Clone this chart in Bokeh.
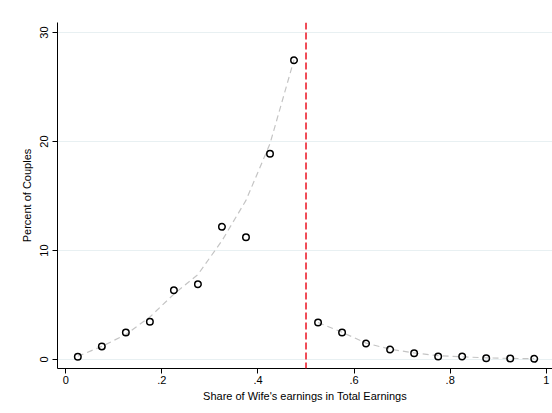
from bokeh.plotting import figure
from bokeh.models import Range1d, FixedTicker, Span
from bokeh.embed import file_html
from bokeh.resources import INLINE

# ---- data ----
bins_left = [0.025, 0.075, 0.125, 0.175, 0.225, 0.275, 0.325, 0.375, 0.425, 0.475]
pct_left = [0.25, 1.19, 2.48, 3.46, 6.36, 6.91, 12.17, 11.22, 18.87, 27.46]
fit_left = [0.3, 1.2, 2.3, 3.9, 6.0, 7.8, 10.9, 14.6, 19.8, 27.5]

bins_right = [0.525, 0.575, 0.625, 0.675, 0.725, 0.775, 0.825, 0.875, 0.925, 0.975]
pct_right = [3.39, 2.48, 1.47, 0.92, 0.58, 0.28, 0.28, 0.12, 0.09, 0.06]
fit_right = [3.4, 2.5, 1.5, 0.95, 0.6, 0.35, 0.25, 0.15, 0.1, 0.07]

cutoff = 0.5
x_ticks = [0, 0.2, 0.4, 0.6, 0.8, 1]
x_tick_labels = ["0", ".2", ".4", ".6", ".8", "1"]
y_ticks = [0, 10, 20, 30]

FONT = "Liberation Sans"

p = figure(width=552, height=413, output_backend="svg", toolbar_location=None,
           x_range=Range1d(-0.0173, 1.013), y_range=Range1d(-0.826, 30.92),
           min_border_left=57, min_border_right=0, min_border_top=22,
           min_border_bottom=45)
p.outline_line_color = None
p.background_fill_color = "white"
p.border_fill_color = "white"

# grid
p.xgrid.grid_line_color = None
p.ygrid.grid_line_color = "#e8f0f2"
p.ygrid.grid_line_width = 1.2

# axes
p.xaxis.ticker = FixedTicker(ticks=x_ticks)
p.xaxis.major_label_overrides = {t: l for t, l in zip(x_ticks, x_tick_labels)}
p.yaxis.ticker = FixedTicker(ticks=y_ticks)
p.yaxis.major_label_orientation = "vertical"
for ax in (p.xaxis, p.yaxis):
    ax.axis_line_color = "#000000"
    ax.axis_line_width = 1
    ax.major_tick_line_color = "#000000"
    ax.major_tick_out = 5
    ax.major_tick_in = 0
    ax.minor_tick_line_color = None
    ax.major_label_text_font = FONT
    ax.major_label_text_font_size = "11px"
    ax.major_label_text_color = "#000000"
    ax.axis_label_text_font = FONT
    ax.axis_label_text_font_size = "11px"
    ax.axis_label_text_font_style = "normal"
    ax.axis_label_text_color = "#000000"
p.xaxis.major_label_standoff = 2
p.yaxis.major_label_standoff = 4
p.xaxis.axis_label = "Share of Wife's earnings in Total Earnings"
p.yaxis.axis_label = "Percent of Couples"
p.xaxis.axis_label_standoff = 3
p.yaxis.axis_label_standoff = 5

# fitted lines
p.line(bins_left, fit_left, line_color="#c4c4c4", line_width=1.2, line_dash="6 4")
p.line(bins_right, fit_right, line_color="#c4c4c4", line_width=1.2, line_dash="6 4")

# cutoff line
p.add_layout(Span(location=cutoff, dimension="height", line_color="#f04a55",
                  line_width=2, line_dash="7 3"))

# points
p.scatter(bins_left, pct_left, marker="circle", size=6.5, fill_color=None,
          line_color="#000000", line_width=1.5)
p.scatter(bins_right, pct_right, marker="circle", size=6.5, fill_color=None,
          line_color="#000000", line_width=1.5)

open("out.html", "w").write(file_html(p, INLINE))
